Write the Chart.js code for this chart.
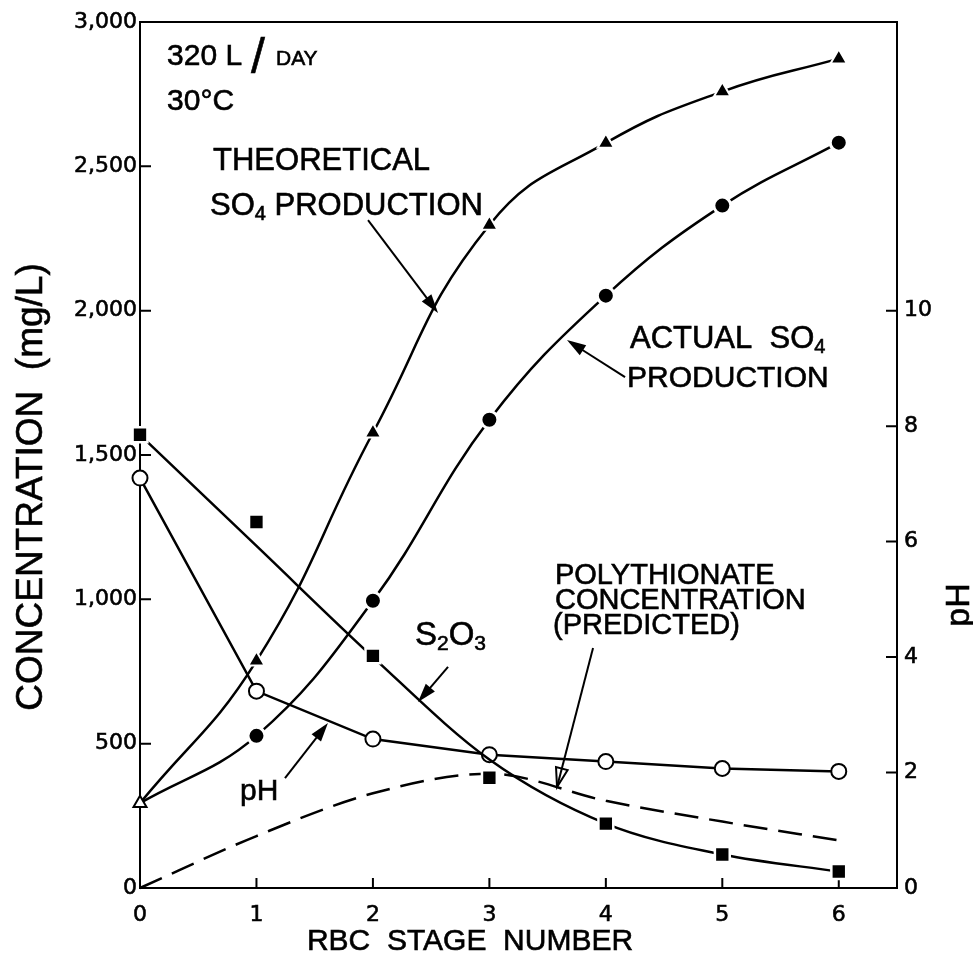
<!DOCTYPE html>
<html>
<head>
<meta charset="utf-8">
<script src="https://cdn.jsdelivr.net/npm/chart.js@4.4.0/dist/chart.umd.min.js"></script>
<style>
html,body{margin:0;padding:0;background:#fff;}
#wrap{width:973px;height:971px;}
</style>
</head>
<body>
<div id="wrap"><canvas id="c" width="973" height="971"></canvas></div>
<script>
// ---- data ----
const stages = [0, 1, 2, 3, 4, 5, 6];
const theoreticalSO4 = [294, 787, 1577, 2297, 2581, 2759, 2873];
const actualSO4 = [294, 527, 995, 1622, 2052, 2364, 2582];
const thiosulfate = [1570, 1268, 804, 382, 223, 116, 57];
const thiosulfateCurve = [1570, 1185, 800, 445, 223, 116, 57];
const polythionate = [0, 180, 328, 396, 302, 230, 165];
const pHValues = [7.10, 3.41, 2.58, 2.31, 2.19, 2.07, 2.02];

const concTicks = [0, 500, 1000, 1500, 2000, 2500, 3000];
const pHTicks = [0, 2, 4, 6, 8, 10];
const stageTicks = [0, 1, 2, 3, 4, 5, 6];

const pts = arr => stages.map((s, i) => ({x: s, y: arr[i]}));

const SANS = '"Liberation Sans", Arial, Helvetica, sans-serif';
const TICKFONT = '"DejaVu Sans", sans-serif';

// annotation texts (positions in data units of x / left y axis)
const notes = [
  {x: 0.232, y: 2851, parts: [{t: '320 L', s: 30}, {t: '/', s: 50, dx: 9, dy: 8}, {t: 'DAY', s: 21, dx: 11}]},
  {x: 0.232, y: 2695, parts: [{t: '30°C', s: 30}]},
  {x: 0.627, y: 2487, parts: [{t: 'THEORETICAL', s: 31}]},
  {x: 0.601, y: 2331, parts: [{t: 'SO', s: 31}, {t: '4', s: 20, dy: 5}, {t: ' PRODUCTION', s: 31}]},
  {x: 4.207, y: 1871, parts: [{t: 'ACTUAL  SO', s: 31}, {t: '4', s: 20, dy: 5}]},
  {x: 4.182, y: 1735, parts: [{t: 'PRODUCTION', s: 30}]},
  {x: 3.563, y: 1053, parts: [{t: 'POLYTHIONATE', s: 29}]},
  {x: 3.563, y: 966, parts: [{t: 'CONCENTRATION', s: 29}]},
  {x: 3.546, y: 880, parts: [{t: '(PREDICTED)', s: 29}]},
  {x: 2.361, y: 842, parts: [{t: 'S', s: 33}, {t: '2', s: 21, dy: 5}, {t: 'O', s: 33}, {t: '3', s: 21, dy: 5}]},
  {x: 0.859, y: 305, parts: [{t: 'pH', s: 30}]}
];
const arrows = [
  {from: [1.958, 2314], to: [2.559, 1992]},
  {from: [4.165, 1770], to: [3.666, 1898]},
  {from: [3.890, 831], to: [3.581, 350], hollow: true},
  {from: [2.645, 766], to: [2.387, 644]},
  {from: [1.245, 381], to: [1.614, 572]}
];

function txt(ctx, t, x, y) {
  ctx.fillText(t, x, y);
  ctx.strokeText(t, x, y);
}

function drawParts(ctx, x, y, parts) {
  let cx = x;
  parts.forEach(p => {
    ctx.font = p.s + 'px ' + SANS;
    cx += (p.dx || 0);
    txt(ctx, p.t, cx, y + (p.dy || 0));
    cx += ctx.measureText(p.t).width;
  });
}

function drawArrow(ctx, x1, y1, x2, y2, hollow) {
  const ang = Math.atan2(y2 - y1, x2 - x1);
  const L = 19, W = 6;
  ctx.beginPath();
  ctx.moveTo(x1, y1);
  ctx.lineTo(hollow ? x2 : x2 - Math.cos(ang) * (L - 2), hollow ? y2 : y2 - Math.sin(ang) * (L - 2));
  ctx.stroke();
  const bx = x2 - Math.cos(ang) * L, by = y2 - Math.sin(ang) * L;
  ctx.beginPath();
  ctx.moveTo(x2, y2);
  ctx.lineTo(bx + Math.sin(ang) * W, by - Math.cos(ang) * W);
  ctx.lineTo(bx - Math.sin(ang) * W, by + Math.cos(ang) * W);
  ctx.closePath();
  if (hollow) { ctx.stroke(); } else { ctx.fill(); }
}

const framePlugin = {
  id: 'frame',
  beforeDatasetsDraw(chart) {
    const {ctx, chartArea: a, scales} = chart;
    ctx.save();
    ctx.strokeStyle = '#000';
    ctx.lineWidth = 2;
    ctx.strokeRect(a.left, a.top, a.right - a.left, a.bottom - a.top);
    ctx.beginPath();
    concTicks.forEach(v => {
      if (v > 0 && v < 3000) {
        const y = scales.y.getPixelForValue(v);
        ctx.moveTo(a.left, y); ctx.lineTo(a.left + 11, y);
      }
    });
    pHTicks.forEach(v => {
      if (v > 0) {
        const y = scales.y2.getPixelForValue(v);
        ctx.moveTo(a.right, y); ctx.lineTo(a.right - 11, y);
      }
    });
    stageTicks.forEach(v => {
      if (v > 0) {
        const x = scales.x.getPixelForValue(v);
        ctx.moveTo(x, a.bottom); ctx.lineTo(x, a.bottom - 10);
      }
    });
    ctx.stroke();
    ctx.restore();
  },
  afterDatasetsDraw(chart) {
    const {ctx, chartArea: a, scales} = chart;
    ctx.save();
    ctx.fillStyle = '#000';
    ctx.strokeStyle = '#000';
    ctx.textBaseline = 'alphabetic';
    ctx.textAlign = 'left';
    ctx.lineWidth = 0.6;
    notes.forEach(n => {
      drawParts(ctx, scales.x.getPixelForValue(n.x), scales.y.getPixelForValue(n.y), n.parts);
    });
    // axis titles
    ctx.textAlign = 'center';
    ctx.font = '37px ' + SANS;
    ctx.save();
    ctx.translate(42, 487);
    ctx.rotate(-Math.PI / 2);
    txt(ctx, 'CONCENTRATION  (mg/L)', 0, 0);
    ctx.restore();
    ctx.save();
    ctx.font = '34px ' + SANS;
    ctx.translate(969, 605);
    ctx.rotate(-Math.PI / 2);
    txt(ctx, 'pH', 0, 0);
    ctx.restore();
    ctx.font = '30px ' + SANS;
    txt(ctx, 'RBC  STAGE  NUMBER', 470, 950);
    ctx.lineWidth = 2;
    arrows.forEach(ar => {
      drawArrow(ctx,
        scales.x.getPixelForValue(ar.from[0]), scales.y.getPixelForValue(ar.from[1]),
        scales.x.getPixelForValue(ar.to[0]), scales.y.getPixelForValue(ar.to[1]), ar.hollow);
    });
    ctx.restore();
  }
};

const tickOpts = (pad) => ({
  color: '#000',
  font: {family: TICKFONT, size: 22},
  textStrokeColor: '#000',
  textStrokeWidth: 0.6,
  padding: pad,
  autoSkip: false,
  maxRotation: 0
});

new Chart(document.getElementById('c'), {
  type: 'line',
  data: {
    datasets: [
      {
        label: 'Theoretical SO4 production',
        data: pts(theoreticalSO4),
        yAxisID: 'y',
        borderColor: '#000', borderWidth: 2.5,
        tension: 0.45,
        pointStyle: 'triangle',
        pointRadius: stages.map((s, i) => i === 0 ? 7.5 : 9.5),
        pointBackgroundColor: stages.map((s, i) => i === 0 ? '#fff' : '#000'),
        pointBorderColor: stages.map((s, i) => i === 0 ? '#000' : '#fff'),
        pointBorderWidth: 2,
        clip: false
      },
      {
        label: 'Actual SO4 production',
        data: pts(actualSO4),
        yAxisID: 'y',
        borderColor: '#000', borderWidth: 2.5,
        tension: 0.4,
        pointStyle: 'circle',
        pointRadius: stages.map((s, i) => i === 0 ? 0 : 8.5),
        pointBackgroundColor: '#000',
        pointBorderColor: '#fff',
        pointBorderWidth: 3,
        clip: false
      },
      {
        label: 'S2O3',
        data: pts(thiosulfate),
        yAxisID: 'y',
        showLine: false,
        pointStyle: 'rect',
        pointRadius: 10.5,
        pointBackgroundColor: '#000',
        pointBorderColor: '#fff',
        pointBorderWidth: 2.5,
        clip: false
      },
      {
        label: 'S2O3 curve',
        data: pts(thiosulfateCurve),
        yAxisID: 'y',
        borderColor: '#000', borderWidth: 2.5,
        cubicInterpolationMode: 'monotone',
        pointRadius: 0,
        clip: false
      },
      {
        label: 'Polythionate (predicted)',
        data: pts(polythionate),
        yAxisID: 'y',
        borderColor: '#000', borderWidth: 2.5,
        borderDash: [24, 11],
        cubicInterpolationMode: 'monotone',
        pointRadius: 0,
        clip: false
      },
      {
        label: 'pH',
        data: pts(pHValues),
        yAxisID: 'y2',
        borderColor: '#000', borderWidth: 2.5,
        tension: 0,
        pointStyle: 'circle',
        pointRadius: 7.5,
        pointBackgroundColor: '#fff',
        pointBorderColor: '#000',
        pointBorderWidth: 2,
        clip: false
      }
    ]
  },
  options: {
    responsive: false,
    maintainAspectRatio: false,
    devicePixelRatio: 1,
    animation: false,
    layout: {padding: {top: 22, left: 0, right: 0, bottom: 0}},
    plugins: {legend: {display: false}, tooltip: {enabled: false}},
    scales: {
      x: {
        type: 'linear', min: 0, max: 6.5,
        afterBuildTicks: s => { s.ticks = stageTicks.map(v => ({value: v})); },
        afterFit: s => { s.height = 83; },
        grid: {display: false, drawTicks: false},
        border: {display: false},
        ticks: tickOpts(14)
      },
      y: {
        type: 'linear', position: 'left', min: 0, max: 3000,
        afterBuildTicks: s => { s.ticks = concTicks.map(v => ({value: v})); },
        afterFit: s => { s.width = 140; },
        grid: {display: false, drawTicks: false},
        border: {display: false},
        ticks: Object.assign(tickOpts(3), {callback: v => v.toLocaleString('en-US')})
      },
      y2: {
        type: 'linear', position: 'right', min: 0, max: 15,
        afterBuildTicks: s => { s.ticks = pHTicks.map(v => ({value: v})); },
        afterFit: s => { s.width = 76; },
        grid: {display: false, drawTicks: false},
        border: {display: false},
        ticks: tickOpts(7)
      }
    }
  },
  plugins: [framePlugin]
});
</script>
</body>
</html>
